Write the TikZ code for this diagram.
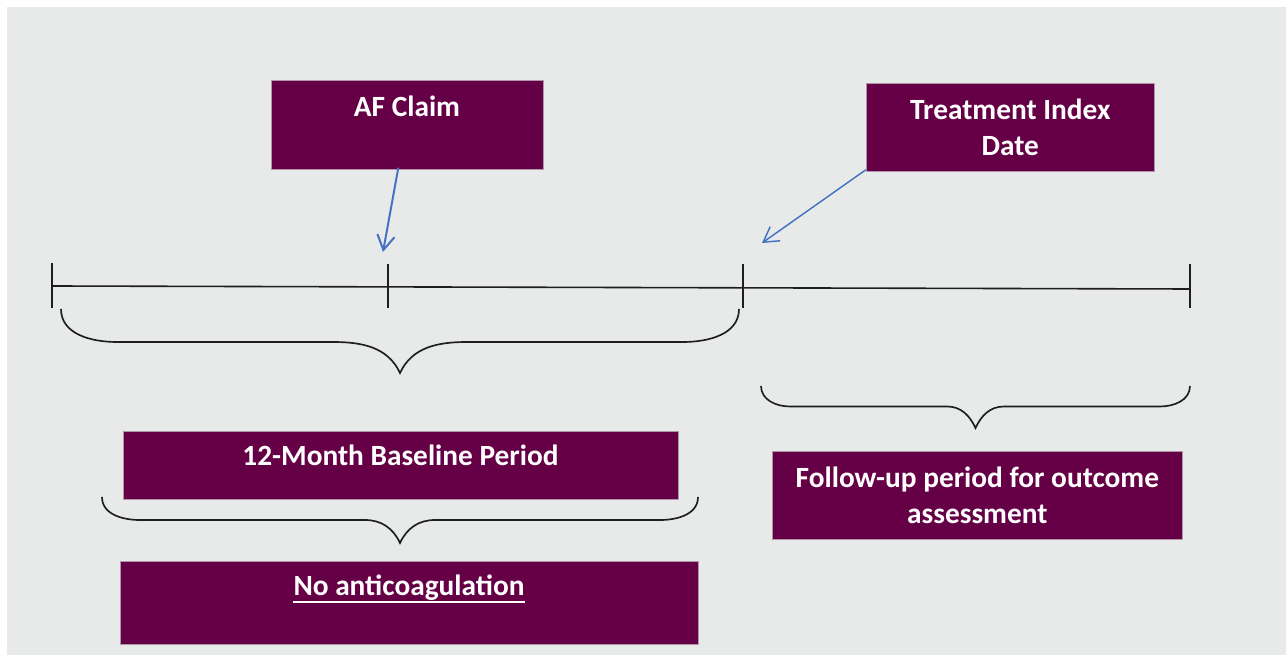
\documentclass[tikz,border=0pt]{standalone}
\usepackage{fontspec}
\setmainfont{Carlito}
\usetikzlibrary{arrows.meta,calc}
\definecolor{bggray}{RGB}{232,234,233}
\definecolor{plum}{RGB}{102,0,70}
\definecolor{plumedge}{RGB}{175,150,170}
\definecolor{arrowblue}{RGB}{68,114,196}
\definecolor{inkline}{RGB}{30,30,30}
\begin{document}
\begin{tikzpicture}[x=0.75pt,y=-0.75pt,
  box/.style={draw=plumedge, line width=0.5pt, fill=plum, inner sep=0pt, anchor=north west,
    text=white, font=\bfseries\fontsize{22}{27}\selectfont, align=center},
  boxtext/.style={text=white, font=\bfseries\fontsize{22}{27}\selectfont, inner sep=0pt, anchor=base},
  tl/.style={line width=1.2pt, draw=inkline},
  brace/.style={line width=1.25pt, draw=inkline},
  ptr/.style={draw=arrowblue, line width=1.5pt, -{Straight Barb[length=11pt,width=13pt]}}]
\useasboundingbox (0,0) rectangle (1286,655);
\fill[white] (0,0) rectangle (1286,655);
\fill[bggray] (7,7) rectangle (1286,655);

% boxes
\node[box, minimum width=204pt, minimum height=66.75pt] (af) at (271,80) {};
\node[boxtext] (afT) at (407,117) {AF Claim};
\node[box, minimum width=216pt, minimum height=66pt] (tid) at (866,83) {Treatment Index\\Date};
\node[box, minimum width=416.25pt, minimum height=51pt] (base) at (123,431) {};
\node[boxtext] (baseT) at (400.5,466) {12-Month Baseline Period};
\node[box, minimum width=307.5pt, minimum height=66pt] (fu) at (772,451) {Follow-up period for outcome\\assessment};
\node[box, minimum width=433.5pt, minimum height=62.25pt] (noac) at (120,561) {};
\node[boxtext] (noacT) at (409,596) {No anticoagulation};
\draw[white, line width=1.1pt] ([yshift=-4.5pt]noacT.base west) -- ([yshift=-4.5pt]noacT.base east);

% timeline
\coordinate (t0) at (52,286);
\coordinate (t3) at (1190,289);
\draw[tl] (t0) -- (t3);
\draw[tl] (52,263) -- (52,308);
\draw[tl] (388,264) -- (388,308);
\draw[tl] (743,264) -- (743,308);
\draw[tl] (1190,264) -- (1190,308);

% braces
\draw[brace] (61,309) to[out=-90,in=180] (117,342) -- (333,342) to[out=0,in=115] (400,373)
  to[out=65,in=180] (467,342) -- (683,342) to[out=0,in=-90] (739,309);
\draw[brace] (761,386) to[out=-90,in=180] (790,406.5) -- (947,406.5) to[out=0,in=115] (975.5,428)
  to[out=65,in=180] (1004,406.5) -- (1160,406.5) to[out=0,in=-90] (1190,386);
\draw[brace] (102,497) to[out=-90,in=180] (140,520) -- (365,520) to[out=0,in=115] (400,543)
  to[out=65,in=180] (435,520) -- (660,520) to[out=0,in=-90] (698,497);

% arrows
\coordinate (afhit) at (383,252);
\coordinate (tidhit) at (762,243);
\draw[ptr] ([xshift=-6.75pt,yshift=1.5pt]af.south) -- (afhit);
\draw[ptr, line width=1.1pt] ([yshift=1.5pt]tid.south west) -- (tidhit);
\end{tikzpicture}
\end{document}
